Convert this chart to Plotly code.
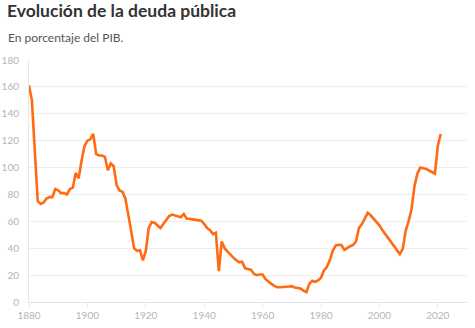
import plotly.graph_objects as go

# Deuda pública de España, % del PIB
years = list(range(1880, 2022))
debt = [
    161, 150, 112, 75, 73, 74, 77, 78, 78, 84,          # 1880-1889
    83, 81, 81, 80, 84, 85, 96, 92, 105, 116,           # 1890-1899
    120, 121, 125, 110, 109, 109, 108, 98, 103, 101,    # 1900-1909
    87, 83, 82, 77, 65, 53, 40, 38, 38.5, 31,           # 1910-1919
    38, 55, 59.5, 59, 57, 55, 58, 61, 64, 65,           # 1920-1929
    64.5, 63.5, 63, 65.5, 62, 61.8, 61.5, 61, 60.8, 60.5,  # 1930-1939
    58, 55, 53.5, 50.5, 51.5, 23, 45, 40, 37.5, 35,     # 1940-1949
    33, 31, 29.5, 30, 25, 24.5, 24, 21, 20, 20.5,       # 1950-1959
    20.5, 17, 15, 13.5, 12, 11, 11, 11, 11.3, 11.5,     # 1960-1969
    11.8, 10.7, 10.4, 10, 8.5, 7.3, 13.5, 15.8, 15, 16, # 1970-1979
    18, 23.5, 26, 31, 38, 42, 42.5, 42.4, 38.8, 40.5,   # 1980-1989
    41.5, 42.5, 45, 55, 58, 62, 66.4, 64.5, 62, 60,     # 1990-1999
    57, 53.5, 50.5, 47.5, 44.5, 42, 39, 35.7, 39.5, 53, # 2000-2009
    60, 69, 86, 95.5, 100, 99.5, 99, 97.8, 96.5, 95.5,  # 2010-2019
    116, 125,                                           # 2020-2021
]

x_ticks = [1880, 1900, 1920, 1940, 1960, 1980, 2000, 2020]
y_ticks = [0, 20, 40, 60, 80, 100, 120, 140, 160, 180]

title_text = "Evolución de la deuda pública"
subtitle_text = "En porcentaje del PIB."

fig = go.Figure(
    go.Scatter(
        x=years,
        y=debt,
        mode="lines",
        line=dict(color="#ff6a13", width=2.6),
        hoverinfo="x+y",
    )
)

fig.update_layout(
    width=475,
    height=328,
    margin=dict(l=29, r=8, t=60, b=26, autoexpand=False),
    paper_bgcolor="white",
    plot_bgcolor="white",
    showlegend=False,
    font=dict(family="Lato, 'Open Sans', sans-serif", color="#bbbbbb", size=10),
    title=dict(
        text=title_text,
        font=dict(family="Lato", size=17.5, color="#333333", weight="bold"),
        x=7 / 475,
        xref="container",
        xanchor="left",
        y=1 - 5 / 328,
        yref="container",
        yanchor="top",
        pad=dict(t=0, b=0, l=0, r=0),
    ),
    annotations=[
        dict(
            text=subtitle_text,
            xref="paper",
            yref="paper",
            x=-23 / 438,
            y=1 + 32 / 242,
            xanchor="left",
            yanchor="top",
            showarrow=False,
            font=dict(family="Lato", size=12, color="#555555"),
        )
    ],
)

fig.update_xaxes(
    range=[1880, 2030],
    tickvals=x_ticks,
    ticktext=[str(v) for v in x_ticks],
    showgrid=False,
    zeroline=False,
    showline=True,
    linecolor="#e3e3e3",
    linewidth=1,
    ticks="outside",
    ticklen=4,
    tickcolor="#e3e3e3",
    automargin=False,
    tickfont=dict(size=10, color="#b5b5b5"),
)

fig.update_yaxes(
    range=[0, 180],
    tickvals=y_ticks,
    showgrid=True,
    gridcolor="#eeeeee",
    gridwidth=1,
    zeroline=False,
    showline=True,
    linecolor="#e8e8e8",
    linewidth=1,
    ticks="",
    ticklabelstandoff=7,
    automargin=False,
    tickfont=dict(size=10, color="#b5b5b5"),
)

fig.write_html("out.html")
